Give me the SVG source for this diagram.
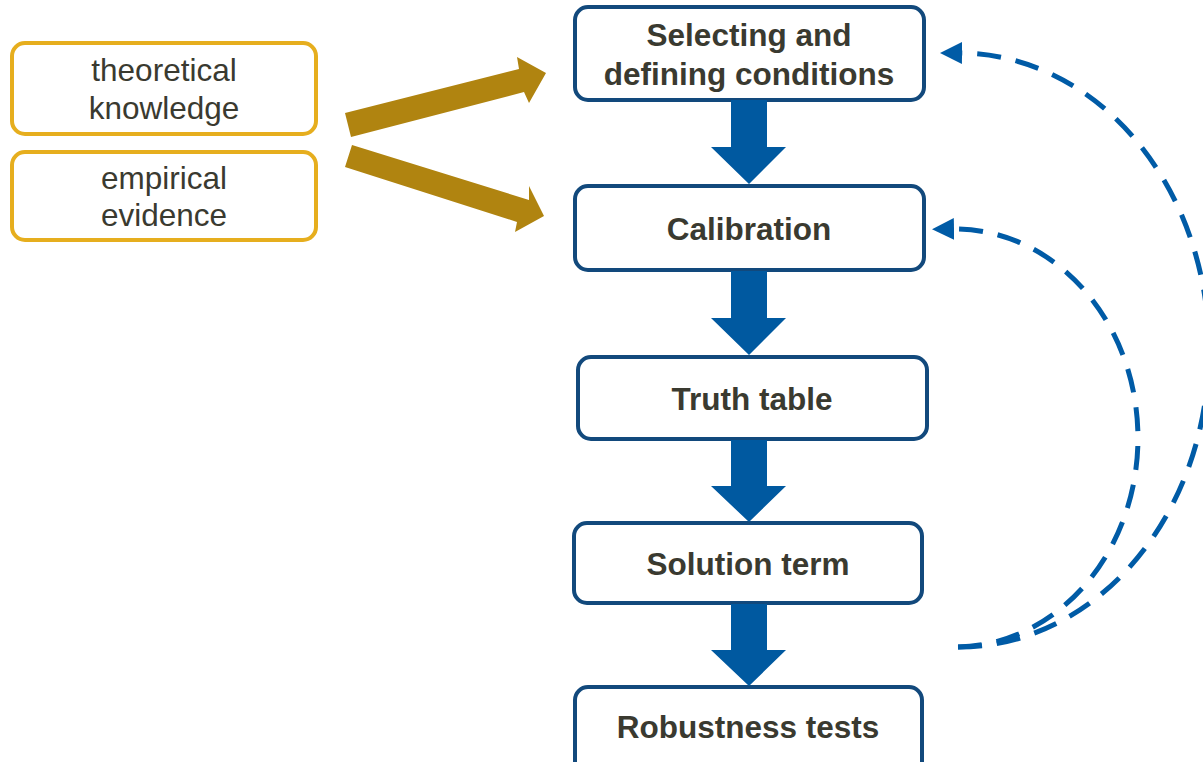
<svg xmlns="http://www.w3.org/2000/svg" width="1203" height="762" viewBox="0 0 1203 762">
  <style>
    .step { fill: #ffffff; stroke: #12497c; stroke-width: 4; }
    .src { fill: #ffffff; stroke: #e6ae1e; stroke-width: 4; }
    .bt { font-family: "Liberation Sans", Arial, sans-serif; font-weight: bold; font-size: 31.5px; fill: #3a3a30; text-anchor: middle; }
    .lt { font-family: "Liberation Sans", Arial, sans-serif; font-size: 31.5px; fill: #3a3a30; text-anchor: middle; }
    .blk { fill: #0059a0; }
    .gold { fill: #b08410; }
    .dash { fill: none; stroke: #005ba6; stroke-width: 5; stroke-dasharray: 24 15; }
  </style>
  <defs>
    <marker id="ah" markerUnits="userSpaceOnUse" markerWidth="24" markerHeight="26" refX="2" refY="13" orient="auto" viewBox="0 0 24 26">
      <path d="M0 2 L22 13 L0 24 Z" fill="#005ba6"/>
    </marker>
  </defs>

  <g id="node-theoretical">
    <rect class="src" x="12" y="43" width="304" height="91" rx="13"/>
    <text class="lt" x="164" y="81">theoretical</text>
    <text class="lt" x="164" y="119">knowledge</text>
  </g>
  <g id="node-empirical">
    <rect class="src" x="12" y="152" width="304" height="88" rx="13"/>
    <text class="lt" x="164" y="189">empirical</text>
    <text class="lt" x="164" y="226">evidence</text>
  </g>

  <g id="node-selecting">
    <rect class="step" x="575" y="7" width="349" height="93" rx="13"/>
    <text class="bt" x="749" y="46">Selecting and</text>
    <text class="bt" x="749" y="85">defining conditions</text>
  </g>
  <g id="node-calibration">
    <rect class="step" x="575" y="186" width="349" height="84" rx="13"/>
    <text class="bt" x="749" y="240">Calibration</text>
  </g>
  <g id="node-truth">
    <rect class="step" x="578" y="357" width="349" height="82" rx="13"/>
    <text class="bt" x="752" y="410">Truth table</text>
  </g>
  <g id="node-solution">
    <rect class="step" x="574" y="523" width="348" height="80" rx="13"/>
    <text class="bt" x="748" y="575">Solution term</text>
  </g>
  <g id="node-robustness">
    <rect class="step" x="575" y="687" width="347" height="90" rx="13"/>
    <text class="bt" x="748" y="738">Robustness tests</text>
  </g>

  <g id="connectors">
    <polygon class="gold" points="345,113 519,69 517,57 546,73 529,103 524,92 351,137"/>
    <polygon class="gold" points="352,145 529,200 529,186 544,216 515,232 517,222 345,167"/>
    <polygon class="blk" points="731,100 767,100 767,147 786,147 749,184 711,147 731,147"/>
    <polygon class="blk" points="731,271 767,271 767,318 786,318 749,355 711,318 731,318"/>
    <polygon class="blk" points="731,440 767,440 767,486 786,486 749,522 711,486 731,486"/>
    <polygon class="blk" points="731,604 767,604 767,650 786,650 749,686 711,650 731,650"/>
    <path class="dash" d="M958 647 A250 297 0 0 0 960 53" marker-end="url(#ah)"/>
    <path class="dash" d="M958 647 A183 209 0 0 0 952 229" marker-end="url(#ah)"/>
  </g>
</svg>
